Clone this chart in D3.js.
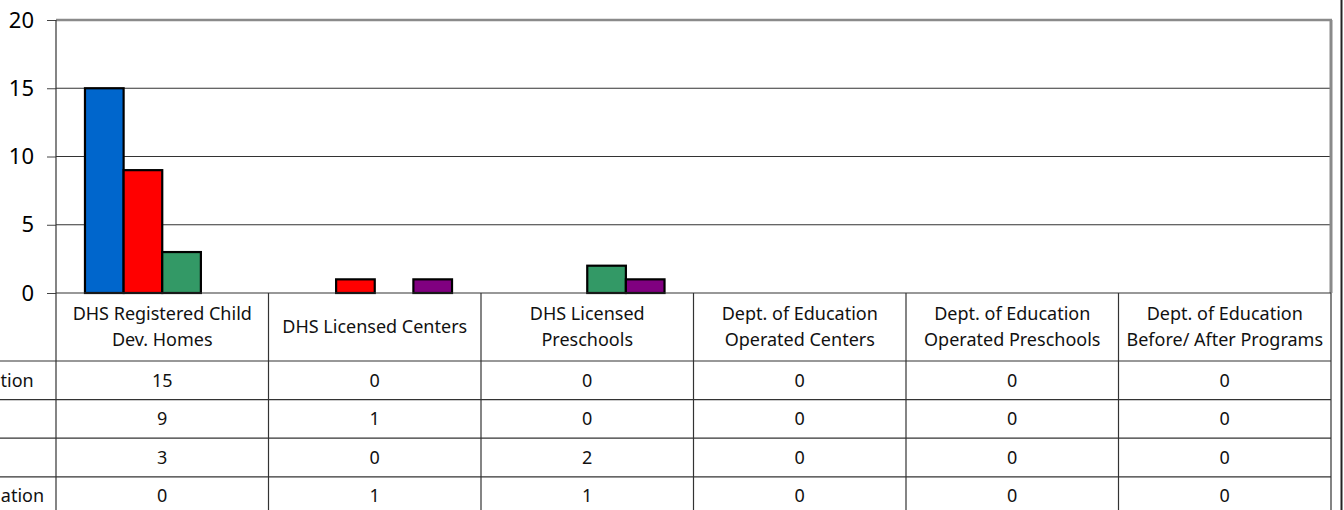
<!DOCTYPE html>
<html>
<head>
<meta charset="utf-8">
<script src="https://cdn.jsdelivr.net/npm/d3@7"></script>
<style>
  body { margin: 0; background: #fff; overflow: hidden; }
  svg { display: block; font-family: "Noto Sans", "Open Sans", sans-serif; }
</style>
</head>
<body>
<div id="chart"></div>
<script>
let categories = [
    ["DHS Registered Child", "Dev. Homes"],
    ["DHS Licensed Centers"],
    ["DHS Licensed", "Preschools"],
    ["Dept. of Education", "Operated Centers"],
    ["Dept. of Education", "Operated Preschools"],
    ["Dept. of Education", "Before/ After Programs"]
];
let seriesNames = ["Open Investigation", "Founded", "Unfounded", "Closed Investigation"];
let seriesColors = ["#0066cc", "#ff0000", "#339966", "#800080"];
let series1 = [15, 0, 0, 0, 0, 0];
let series2 = [9, 1, 0, 0, 0, 0];
let series3 = [3, 0, 2, 0, 0, 0];
let series4 = [0, 1, 1, 0, 0, 0];
let yTicks = [0, 5, 10, 15, 20];

let allSeries = [series1, series2, series3, series4];

let W = 1344, H = 510;
let margin = {top: 20, left: 56, right: 13};
let plotBottom = 293;
let headerH = 68, rowH = 38.6;
let fontSize = 18;

let svg = d3.select("#chart").append("svg")
    .attr("width", W)
    .attr("height", H);

let xScale = d3.scaleBand()
    .domain(d3.range(categories.length))
    .range([margin.left, W - margin.right])
    .paddingInner(0).paddingOuter(0);
let xSub = d3.scaleBand()
    .domain(d3.range(allSeries.length))
    .range([0, xScale.bandwidth()])
    .paddingInner(0).paddingOuter(0.75);
let yScale = d3.scaleLinear().domain([0, 20]).range([plotBottom, margin.top]);

let left = margin.left, right = W - margin.right;

// gridlines
svg.append("g").selectAll("line")
    .data(yTicks.filter(t => t > 0 && t < 20))
    .enter().append("line")
    .attr("x1", left).attr("x2", right)
    .attr("y1", d => yScale(d)).attr("y2", d => yScale(d))
    .attr("stroke", "#333").attr("stroke-width", 1.2);

// plot border top + right (gray)
svg.append("line")
    .attr("x1", left).attr("x2", right + 1)
    .attr("y1", yScale(20)).attr("y2", yScale(20))
    .attr("stroke", "#8a8a8a").attr("stroke-width", 2.5);
svg.append("line")
    .attr("x1", right).attr("x2", right)
    .attr("y1", yScale(20)).attr("y2", plotBottom)
    .attr("stroke", "#8a8a8a").attr("stroke-width", 3);

// bars
let barData = [];
allSeries.forEach((s, si) => s.forEach((v, ci) => barData.push({si: si, ci: ci, v: v})));
svg.append("g").selectAll("rect")
    .data(barData.filter(d => d.v > 0))
    .enter().append("rect")
    .attr("x", d => xScale(d.ci) + xSub(d.si))
    .attr("y", d => yScale(d.v))
    .attr("width", xSub.bandwidth())
    .attr("height", d => plotBottom - yScale(d.v))
    .attr("fill", d => seriesColors[d.si])
    .attr("stroke", "#000").attr("stroke-width", 2.2);

// y axis
let yAxis = d3.axisLeft(yScale).tickValues(yTicks).tickSize(9).tickPadding(13);
let ya = svg.append("g")
    .attr("transform", `translate(${left},0)`)
    .call(yAxis);
ya.select(".domain").remove();
ya.selectAll(".tick line").attr("stroke", "#444");
ya.selectAll(".tick text")
    .attr("font-size", 22).attr("fill", "#000")
    .attr("font-family", "'Noto Sans', 'Open Sans', sans-serif");

// table
let tableBottom = plotBottom + headerH + rowH * allSeries.length;
let tg = svg.append("g");
// vertical lines
tg.selectAll("line.v")
    .data(d3.range(categories.length + 1))
    .enter().append("line")
    .attr("class", "v")
    .attr("x1", i => i < categories.length ? xScale(i) : right)
    .attr("x2", i => i < categories.length ? xScale(i) : right)
    .attr("y1", i => i == 0 ? margin.top : plotBottom)
    .attr("y2", tableBottom)
    .attr("stroke", "#333").attr("stroke-width", 1.2);
// horizontal lines
tg.append("line")
    .attr("x1", left).attr("x2", right)
    .attr("y1", plotBottom).attr("y2", plotBottom)
    .attr("stroke", "#333").attr("stroke-width", 1.2);
tg.selectAll("line.h")
    .data(d3.range(allSeries.length + 1))
    .enter().append("line")
    .attr("class", "h")
    .attr("x1", -200).attr("x2", right)
    .attr("y1", i => plotBottom + headerH + i * rowH)
    .attr("y2", i => plotBottom + headerH + i * rowH)
    .attr("stroke", "#333").attr("stroke-width", 1.2);

// header labels
let hdr = tg.selectAll("text.hdr")
    .data(categories)
    .enter().append("text")
    .attr("class", "hdr")
    .attr("text-anchor", "middle")
    .attr("font-size", fontSize)
    .attr("fill", "#111")
    .attr("x", (d, i) => xScale(i) + xScale.bandwidth() / 2)
    .attr("y", plotBottom + headerH / 2);
hdr.selectAll("tspan")
    .data(d => d.map((t, k) => ({t: t, k: k, n: d.length})))
    .enter().append("tspan")
    .attr("x", function() { return d3.select(this.parentNode).attr("x"); })
    .attr("y", d => plotBottom + headerH / 2 + (d.k - (d.n - 1) / 2) * 26)
    .attr("dy", "0.35em")
    .text(d => d.t);

// values
allSeries.forEach((s, si) => {
    let cy = plotBottom + headerH + si * rowH + rowH / 2;
    tg.selectAll("text.val" + si)
        .data(s)
        .enter().append("text")
        .attr("text-anchor", "middle")
        .attr("font-size", fontSize)
        .attr("fill", "#111")
        .attr("x", (d, i) => xScale(i) + xScale.bandwidth() / 2)
        .attr("y", cy)
        .attr("dy", "0.35em")
        .text(d => d);
});

// row labels (legend column, mostly off the left edge)
tg.selectAll("text.rowlab")
    .data(seriesNames)
    .enter().append("text")
    .attr("class", "rowlab")
    .attr("font-size", fontSize)
    .attr("fill", "#111")
    .attr("x", -128)
    .attr("y", (d, i) => plotBottom + headerH + i * rowH + rowH / 2)
    .attr("dy", "0.35em")
    .text(d => d);

// outer chart border on the right
svg.append("line")
    .attr("x1", W - 2.5).attr("x2", W - 2.5)
    .attr("y1", 0).attr("y2", H)
    .attr("stroke", "#222").attr("stroke-width", 2);
</script>
</body>
</html>
